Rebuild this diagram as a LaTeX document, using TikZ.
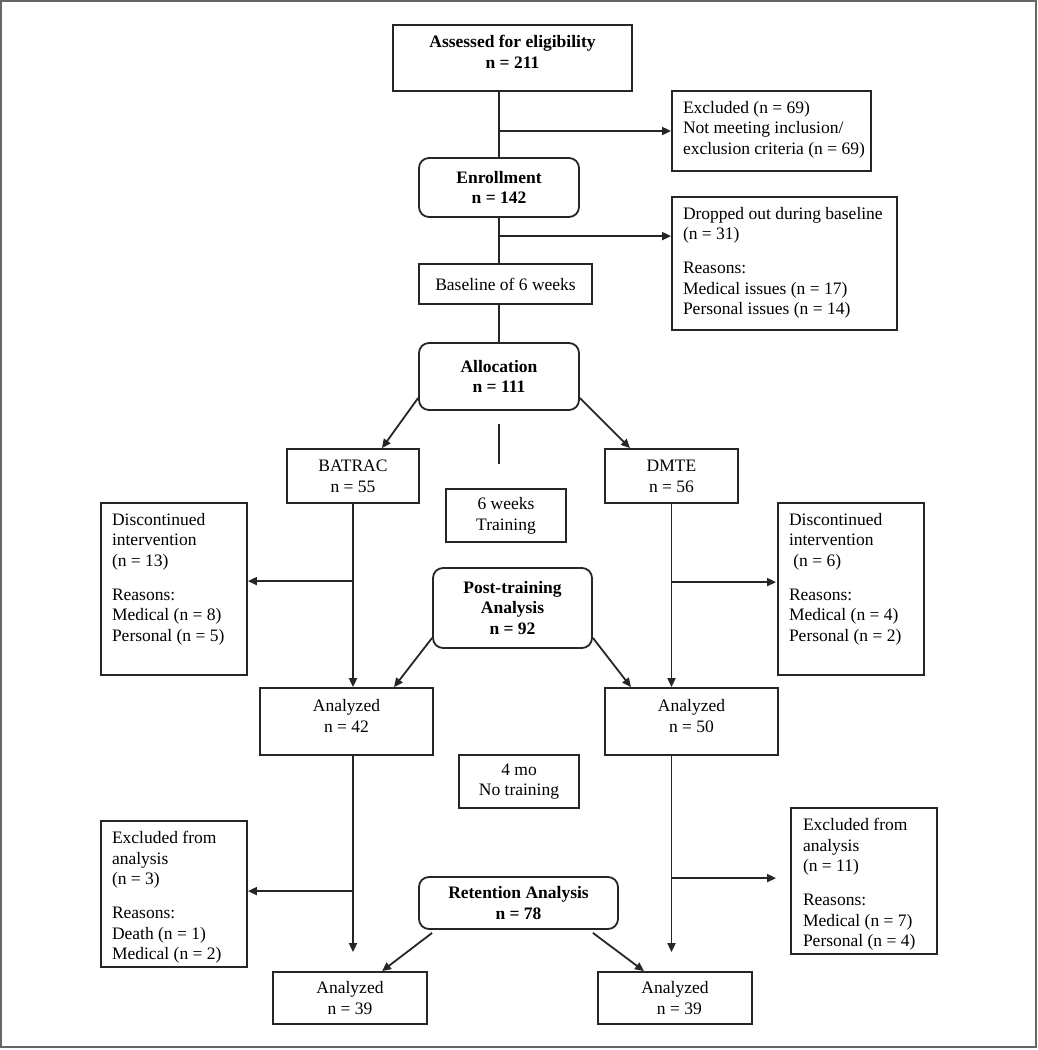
\documentclass[tikz,border=0pt]{standalone}
\usepackage{fontspec}
\setmainfont{Liberation Serif}
\usepackage{tikz}
\usetikzlibrary{arrows.meta, calc, positioning}

\begin{document}
\fontsize{8.75}{10.35}\selectfont
\begin{tikzpicture}[x=0.5pt, y=-0.5pt, line width=0.9pt, draw=black!85,
    box/.style={draw, align=center, inner sep=0pt},
    rbox/.style={box, rounded corners=5pt, font=\bfseries},
    side/.style={draw, inner sep=0pt},
    sidetxt/.style={anchor=north west, align=left, inner sep=0pt},
    toptxt/.style={anchor=north, align=center, inner sep=0pt},
    arr/.style={-{Triangle[length=4.5pt, width=4pt]}}]
                        \useasboundingbox (0,0) rectangle (1038,1050);
                        \draw[black!60, line width=1pt] (1,1) rectangle (1036,1047);

                        \node[side, minimum width=119.5pt, minimum height=33pt] (ass) at (512.5,58) {};
                        \node[toptxt, font=\bfseries] (asst) at ($(ass.north)+(0,10)$) {Assessed for eligibility\\n = 211};
                        \node[side, minimum width=99.5pt, minimum height=40pt] (exc) at (771.5,131) {};
                        \node[sidetxt] (exct) at ($(exc.north west)+(11,10)$) {Excluded (n = 69)\\Not meeting inclusion/\\exclusion criteria (n = 69)};
                        \node[rbox, minimum width=80pt, minimum height=29.5pt] (enr) at (499,187.5) {Enrollment\\n = 142};
                        \node[side, minimum width=112.5pt, minimum height=66.5pt] (drp) at (784.5,263.5) {};
                        \node[sidetxt] (drpt) at ($(drp.north west)+(11,10)$) {Dropped out during baseline\\(n = 31)\\[6.5pt]Reasons:\\Medical issues (n = 17)\\Personal issues (n = 14)};
                        \node[box, minimum width=86.5pt, minimum height=20pt] (bas) at (505.5,284) {Baseline of 6 weeks};
                        \node[rbox, minimum width=80pt, minimum height=33.5pt] (alc) at (499,376.5) {Allocation\\n = 111};
                        \node[box, minimum width=66pt, minimum height=27pt] (bat) at (353,476) {BATRAC\\n = 55};
                        \node[box, minimum width=66.5pt, minimum height=27pt] (dmt) at (671.5,476) {DMTE\\n = 56};
                        \node[box, minimum width=60pt, minimum height=26.5pt] (trn) at (506,515.5) {6 weeks\\Training};
                        \node[side, minimum width=73pt, minimum height=86pt] (dcl) at (174,589) {};
                        \node[sidetxt] (dclt) at ($(dcl.north west)+(11,10)$) {Discontinued\\intervention\\(n = 13)\\[6.5pt]Reasons:\\Medical (n = 8)\\Personal (n = 5)};
                        \node[side, minimum width=73pt, minimum height=86pt] (dcr) at (851,589) {};
                        \node[sidetxt] (dcrt) at ($(dcr.north west)+(11,10)$) {Discontinued\\intervention\\\ (n = 6)\\[6.5pt]Reasons:\\Medical (n = 4)\\Personal (n = 2)};
                        \node[rbox, minimum width=79.5pt, minimum height=40pt] (pta) at (512.5,608) {Post-training\\Analysis\\n = 92};
                        \node[side, minimum width=86.5pt, minimum height=33.5pt] (a42) at (346.5,721.5) {};
                        \node[toptxt] (a42t) at ($(a42.north)+(0,11.5)$) {Analyzed\\n = 42};
                        \node[side, minimum width=86.5pt, minimum height=33.5pt] (a50) at (691.5,721.5) {};
                        \node[toptxt] (a50t) at ($(a50.north)+(0,11.5)$) {Analyzed\\n = 50};
                        \node[box, minimum width=60pt, minimum height=26.5pt] (nmo) at (519,781.5) {4 mo\\No training};
                        \node[side, minimum width=73pt, minimum height=73pt] (exl) at (174,894) {};
                        \node[sidetxt] (exlt) at ($(exl.north west)+(11,10)$) {Excluded from\\analysis\\(n = 3)\\[6.5pt]Reasons:\\Death (n = 1)\\Medical (n = 2)};
                        \node[side, minimum width=73pt, minimum height=73pt] (exr) at (864,881) {};
                        \node[sidetxt] (exrt) at ($(exr.north west)+(12,10)$) {Excluded from\\analysis\\(n = 11)\\[6.5pt]Reasons:\\Medical (n = 7)\\Personal (n = 4)};
                        \node[rbox, minimum width=99.5pt, minimum height=26pt] (ret) at (518.5,903) {Retention Analysis\\n = 78};
                        \node[box, minimum width=77pt, minimum height=26pt] (a39l) at (350,998) {Analyzed\\n = 39};
                        \node[box, minimum width=77pt, minimum height=26pt] (a39r) at (675,998) {Analyzed\\\ \ n = 39};

                        \coordinate (d1) at ($(drp.north west)+(0,40)$);
                        \coordinate (l1) at ($(dcl.north east)+(0,79)$);
                        \coordinate (r1) at ($(dcr.north west)+(-1,80)$);
                        \coordinate (l2) at ($(exl.north east)+(0,71)$);
                        \coordinate (r2) at ($(exr.north west)+(-14,71)$);
                        \coordinate (l3) at ($(bat.south |- a39l.north)+(0,-19)$);
                        \coordinate (r3) at ($(dmt.south |- a39r.north)+(0,-19)$);

                        \draw
                        (enr.north |- ass.south) -- (enr.north)
                        (enr.south) -- (enr.south |- bas.north)
                        (alc.north |- bas.south) -- (alc.north)
                        ($(alc.south)+(0,13)$) -- ++(0,40);

                        \draw[arr] (enr.north |- exc.west) -- (exc.west);
                        \draw[arr] (enr.south |- d1) -- (d1);
                        \draw[arr] ($(alc.west)+(0,21.5)$) -- ($(bat.north)+(29,0)$);
                        \draw[arr] ($(alc.east)+(0,21.5)$) -- ($(dmt.north)+(-41.5,0)$);
                        \draw[arr] (bat.south) -- (bat.south |- a42.north);
                        \draw[arr] (bat.south |- l1) -- (l1);
                        \draw[arr] (dmt.south) -- (dmt.south |- a50.north);
                        \draw[arr] (dmt.south |- r1) -- (r1);
                        \draw[arr] ($(pta.south west)+(0,-11)$) -- ($(a42.north)+(47.5,0)$);
                        \draw[arr] ($(pta.south east)+(0,-11)$) -- ($(a50.north)+(-60.5,0)$);
                        \draw[arr] (bat.south |- a42.south) -- (l3);
                        \draw[arr] (bat.south |- l2) -- (l2);
                        \draw[arr] (dmt.south |- a50.south) -- (r3);
                        \draw[arr] (dmt.south |- r2) -- (r2);
                        \draw[arr] ($(ret.south west)+(14,3)$) -- ($(a39l.north)+(32,0)$);
                        \draw[arr] ($(ret.south east)+(-26,3)$) -- ($(a39r.north)+(-31,0)$);
                    \end{tikzpicture}
\end{document}
